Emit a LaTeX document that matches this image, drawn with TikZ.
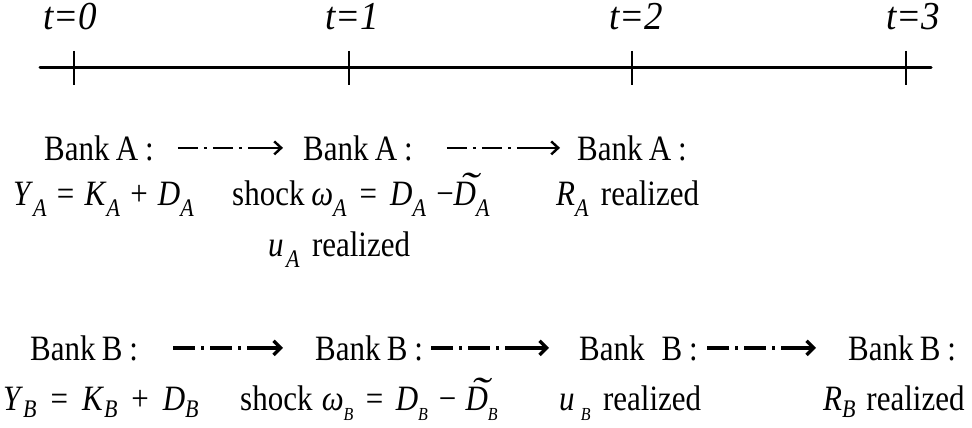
\documentclass[tikz,border=0pt]{standalone}
\usepackage{fontspec}
\usepackage{graphicx}
\setmainfont{Liberation Serif}
\usetikzlibrary{arrows.meta}
\newcommand{\ys}[1]{\scalebox{1}[1.15]{#1}}
\newcommand{\sbA}[1]{\raisebox{-0.33em}{\fontsize{22}{22}\selectfont\itshape #1}}
\newcommand{\sbB}[1]{\raisebox{-0.22em}{\fontsize{22}{22}\selectfont\itshape #1}}
\newcommand{\sbS}[1]{\raisebox{-0.3em}{\fontsize{16}{16}\selectfont\itshape #1}}
\newcommand{\gp}{\hspace{0.33em}}
\newcommand{\gq}{\hspace{0.42em}}
\newcommand{\tildD}{\makebox[0pt][l]{\hspace{0.17em}\raisebox{0.15em}{\scalebox{1.8}[1.1]{\itshape\char"02DC}}}\textit{D}}
\tikzset{
  lbl/.style={anchor=base west, inner sep=0pt, font=\fontsize{31}{36}\selectfont},
  tlab/.style={anchor=base west, inner sep=0pt, font=\fontsize{37}{44}\selectfont\itshape},
  axis/.style={line width=3pt, line cap=round},
  tick/.style={line width=1.3pt},
  arrA/.style={line width=2.3pt,
    dash pattern=on 20pt off 6pt on 3pt off 6pt on 20pt off 6pt on 3pt off 6pt on 300pt off 1pt,
    -{Straight Barb[length=7pt,width=13pt,line width=2.4pt]}},
  arrB/.style={line width=4.5pt,
    dash pattern=on 22pt off 6pt on 3pt off 6pt on 22pt off 6pt on 3pt off 6pt on 300pt off 1pt,
    -{Straight Barb[length=7pt,width=14pt,line width=3.4pt]}}
}
\begin{document}
\begin{tikzpicture}[x=1pt,y=-1pt]
\useasboundingbox (0,0) rectangle (972,428);
% time line
\coordinate (L) at (40,68);
\coordinate (R) at (931,68);
\draw[axis] (L) -- (R);
\foreach \x/\n in {74/0,349/1,632/2,906/3}{
  \coordinate (tk\n a) at (\x,51);
  \coordinate (tk\n b) at (\x,85);
  \draw[tick] (tk\n a) -- (tk\n b);
}
\node[tlab] (t0) at (43,30) {\scalebox{1}[1.07]{t=0}};
\node[tlab] (t1) at (325,30) {\scalebox{1}[1.07]{t=1}};
\node[tlab] (t2) at (609,30) {\scalebox{1}[1.07]{t=2}};
\node[tlab] (t3) at (886,30) {\scalebox{1}[1.07]{t=3}};
% Bank A
\node[lbl] (bA1) at (44,160) {\ys{Bank\hspace{0.2em}A\hspace{0.22em}:}};
\node[lbl] (bA2) at (303,160) {\ys{Bank\hspace{0.2em}A\hspace{0.22em}:}};
\node[lbl] (bA3) at (577,160) {\ys{Bank\hspace{0.2em}A\hspace{0.22em}:}};
\draw[arrA] ([xshift=24pt]bA1.east) -- ([xshift=-20pt]bA2.west);
\draw[arrA] ([xshift=34pt]bA2.east) -- ([xshift=-17pt]bA3.west);
\node[lbl] (yA) at (13,205) {\ys{\textit{Y}\sbA{A}\gp=\gp\textit{K}\sbA{A}\gp+\gp\textit{D}\sbA{A}}};
\node[lbl] (sA) at (232,205) {\ys{shock\hspace{0.22em}\textit{ω}\sbA{A}\gq=\gq\textit{D}\sbA{A}\gp−\tildD\sbA{A}}};
\node[lbl] (rA) at (556,205) {\ys{\textit{R}\sbA{A}\hspace{0.4em}realized}};
\node[lbl] (uA) at (268,256) {\ys{\textit{u}\hspace{0.08em}\sbA{A}\hspace{0.4em}realized}};
% Bank B
\node[lbl] (bB1) at (30,360) {\ys{Bank\hspace{0.2em}B\hspace{0.22em}:}};
\node[lbl] (bB2) at (315,360) {\ys{Bank\hspace{0.2em}B\hspace{0.22em}:}};
\node[lbl] (bB3) at (579,360) {\ys{Bank\hspace{0.55em}B\hspace{0.22em}:}};
\node[lbl] (bB4) at (848,360) {\ys{Bank\hspace{0.2em}B\hspace{0.22em}:}};
\draw[arrB] ([xshift=35pt]bB1.east) -- ([xshift=-32pt]bB2.west);
\draw[arrB] ([xshift=8pt]bB2.east) -- ([xshift=-30pt]bB3.west);
\draw[arrB] ([xshift=9pt]bB3.east) -- ([xshift=-32pt]bB4.west);
\node[lbl] (yB) at (3,410) {\ys{\textit{Y}\sbB{B}\hspace{0.45em}=\hspace{0.45em}\textit{K}\sbB{B}\hspace{0.45em}+\hspace{0.45em}\textit{D}\sbB{B}}};
\node[lbl] (sB) at (240,410) {\ys{shock\hspace{0.3em}\textit{ω}\sbS{B}\hspace{0.4em}=\hspace{0.4em}\textit{D}\sbS{B}\hspace{0.35em}−\hspace{0.3em}\tildD\sbS{B}}};
\node[lbl] (uB) at (559,410) {\ys{\textit{u}\hspace{0.2em}\sbS{B}\hspace{0.4em}realized}};
\node[lbl] (rB) at (823,410) {\ys{\textit{R}\sbB{B}\hspace{0.35em}realized}};
\end{tikzpicture}
\end{document}
